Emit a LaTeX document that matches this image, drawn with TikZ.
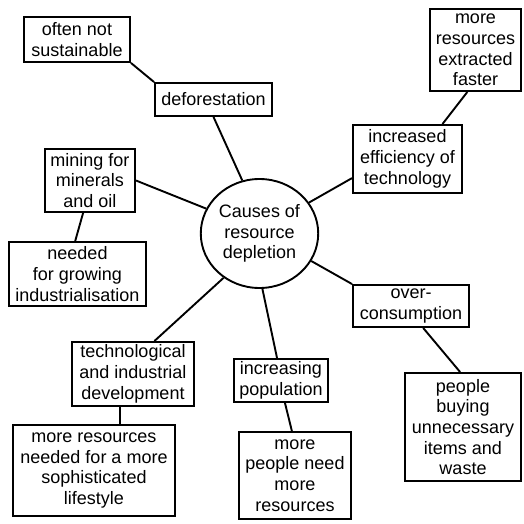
\documentclass[tikz,border=0pt]{standalone}
\usepackage{fontspec}
\setmainfont{Liberation Sans}
\usetikzlibrary{shapes.geometric}

\begin{document}
\begin{tikzpicture}[x=1pt, y=-1pt, line width=1.9pt,
    every node/.style={font=\fontsize{18}{20.7}\selectfont, align=center, inner sep=1pt},
    cbox/.style 2 args={draw, minimum width=#1, minimum height=#2}]
    \useasboundingbox (0,0) rectangle (523,524);
    % centre
    \node[draw, ellipse, minimum width=117pt, minimum height=109pt] (c) at (259.5,233.5) {Causes of\\resource\\depletion};
    % causes
    \node[cbox={117pt}{33pt}] (defor) at (213.5,99.5) {deforestation};
    \node[cbox={90pt}{63pt}] (mining) at (90,180.5) {mining for\\minerals\\and oil};
    \node[cbox={109pt}{68pt}] (incr) at (407.5,159) {increased\\efficiency of\\technology};
    \node[cbox={116pt}{42pt}] (over) at (411,306) {over-\\consumption};
    \node[cbox={94pt}{43pt}] (incpop) at (281,380.5) {increasing\\population};
    \node[cbox={122pt}{64pt}] (techdev) at (133,374) {technological\\and industrial\\development};
    % effects
    \node[cbox={106pt}{45pt}] (often) at (77,39.5) {often not\\sustainable};
    \node[cbox={137pt}{64pt}] (needed) at (77.5,274) {needed\\for growing\\industrialisation};
    \node[cbox={91pt}{82pt}] (extr) at (475.5,50) {more\\resources\\extracted\\faster};
    \node[cbox={116pt}{108pt}] (people) at (463,427) {people\\buying\\unnecessary\\items and\\waste};
    \node[cbox={112pt}{87pt}] (morepeople) at (295,475.5) {more\\people need\\more\\resources};
    \node[cbox={162pt}{91pt}] (lifestyle) at (94,470.5) {more resources\\needed for a more\\sophisticated\\lifestyle};
    \foreach \a/\b in {often.south east/defor.north west, defor.south/c.108,
      mining.east/c.155, mining.-102/needed.94, c.32/incr.-161, incr.45/extr.-101,
      c.-28/over.north west, over.-61/people.93, c.-87/incpop.100,
      incpop.-80/morepeople.94, c.-129/techdev.57,
      techdev.-111/techdev.-111 |- lifestyle.north}
      \draw (\a) -- (\b);
\end{tikzpicture}
\end{document}
